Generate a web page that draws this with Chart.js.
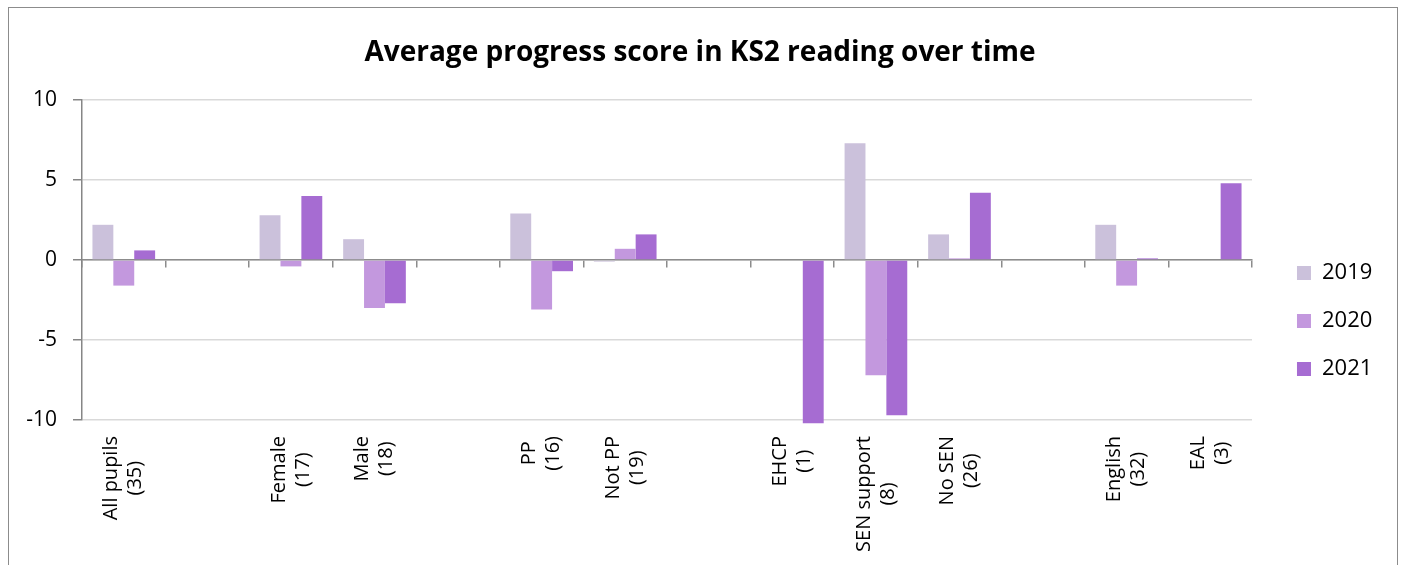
<!DOCTYPE html>
<html><head><meta charset="utf-8">
<script src="https://cdn.jsdelivr.net/npm/chart.js@4.4.1/dist/chart.umd.min.js"></script>
<style>
html,body{margin:0;padding:0;background:#fff;overflow:hidden;}
#wrap{position:absolute;left:0;top:0;width:1402px;height:565px;}
#frame{position:absolute;left:8px;top:7px;width:1388px;height:600px;border:1px solid #8c8c8c;}
canvas{position:absolute;left:0;top:0;}
</style></head><body>
<div id="wrap"><div id="frame"></div><canvas id="c" width="1402" height="565"></canvas></div>
<script>
const categories = [
  ['All pupils', '(35)'], '', ['Female', '(17)'], ['Male', '(18)'], '',
  ['PP', '(16)'], ['Not PP', '(19)'], '', ['EHCP', '(1)'], ['SEN support', '(8)'],
  ['No SEN', '(26)'], '', ['English', '(32)'], ['EAL', '(3)']
];
const seriesNames = ['2019', '2020', '2021'];
const values2019 = [2.2, null, 2.8, 1.3, null, 2.9, -0.1, null, null, 7.3, 1.6, null, 2.2, null];
const values2020 = [-1.6, null, -0.4, -3.0, null, -3.1, 0.7, null, null, -7.2, 0.1, null, -1.6, null];
const values2021 = [0.6, null, 4.0, -2.7, null, -0.7, 1.6, null, -10.2, -9.7, 4.2, null, 0.1, 4.8];
const yTickValues = [-10, -5, 0, 5, 10];
const titleText = 'Average progress score in KS2 reading over time';

const colors = ['#CBC1DB', '#C398DE', '#A66CD2'];
const FONT = '"Open Sans", "DejaVu Sans", sans-serif';

const xLabelPlugin = {
  id: 'xLabels',
  afterDraw(chart) {
    const {ctx, chartArea} = chart;
    const xs = chart.scales.x;
    ctx.save();
    ctx.font = '20px ' + FONT;
    ctx.fillStyle = '#000';
    ctx.textAlign = 'center';
    ctx.textBaseline = 'middle';
    categories.forEach((lab, i) => {
      const lines = Array.isArray(lab) ? lab : [lab];
      if (!lines.join('')) return;
      const W = Math.max(...lines.map(l => ctx.measureText(l).width));
      const x = xs.getPixelForValue(i);
      const top = chartArea.bottom + 16;
      ctx.save();
      ctx.translate(x, top);
      ctx.rotate(-Math.PI / 2);
      lines.forEach((l, j) => ctx.fillText(l, -W / 2, (j - (lines.length - 1) / 2) * 24));
      ctx.restore();
    });
    ctx.restore();
  }
};

function build() {
  new Chart(document.getElementById('c'), {
    type: 'bar',
    data: {
      labels: categories,
      datasets: [
        {label: seriesNames[0], data: values2019, backgroundColor: colors[0]},
        {label: seriesNames[1], data: values2020, backgroundColor: colors[1]},
        {label: seriesNames[2], data: values2021, backgroundColor: colors[2]}
      ].map(d => Object.assign(d, {xAxisID: 'x', yAxisID: 'y', categoryPercentage: 0.75, barPercentage: 1.0, borderWidth: 0, clip: false}))
    },
    options: {
      responsive: false,
      animation: false,
      devicePixelRatio: 1,
      layout: {padding: {left: 17.7, right: 19.7, top: 0, bottom: 0}},
      plugins: {
        title: {
          display: true, text: titleText, color: '#000',
          font: {family: FONT, size: 28, weight: 'bold', lineHeight: 1.2},
          padding: {top: 36, bottom: 30.4}
        },
        legend: {
          position: 'right', align: 'start',
          title: {display: true, text: '', font: {size: 10, lineHeight: 1}, padding: {top: 226, bottom: 0}},
          labels: {font: {family: FONT, size: 22}, color: '#000', boxWidth: 14, boxHeight: 14, padding: 26}
        },
        tooltip: {enabled: false}
      },
      scales: {
        x: {
          type: 'category', axis: 'x', position: {y: 0}, offset: true,
          ticks: {display: false},
          grid: {offset: true, drawOnChartArea: false, drawTicks: true, tickLength: 7, tickColor: '#8c8c8c', lineWidth: 1.5},
          border: {display: true, color: '#8c8c8c', width: 1.5}
        },
        xb: {
          type: 'category', axis: 'x', position: 'bottom', labels: categories.map(() => ''),
          ticks: {display: false}, grid: {display: false}, border: {display: false},
          afterFit(s) { s.height = 145; }
        },
        y: {
          type: 'linear', position: 'left', min: -10, max: 10,
          afterBuildTicks(s) { s.ticks = yTickValues.map(v => ({value: v})); },
          ticks: {color: '#000', font: {family: FONT, size: 21}, padding: 16},
          grid: {color: '#d9d9d9', lineWidth: 1.5, tickColor: '#868686', tickLength: 9},
          border: {display: true, color: '#868686', width: 1.5},
          afterFit(s) { s.width = 64.3; }
        },
        gap: {
          type: 'linear', axis: 'y', position: 'right',
          ticks: {display: false}, grid: {display: false}, border: {display: false},
          afterFit(s) { s.width = 19; }
        }
      }
    },
    plugins: [xLabelPlugin]
  });
}
document.fonts.load('20px "Open Sans"').then(() => document.fonts.load('bold 28px "Open Sans"')).then(build, build);
</script>
</body></html>
